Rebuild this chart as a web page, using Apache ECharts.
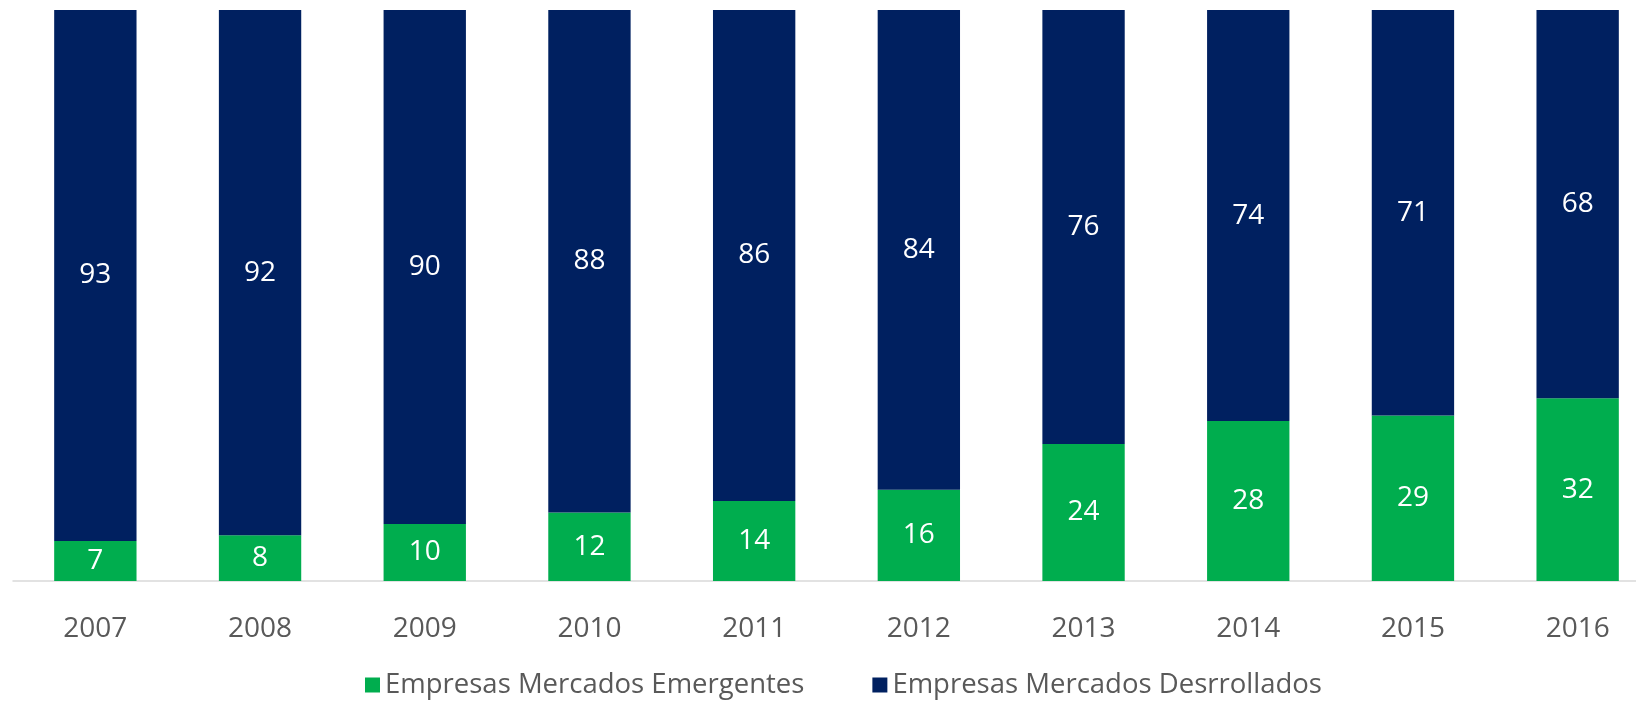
<!DOCTYPE html>
<html lang="es">
<head>
    <meta charset="UTF-8">
    <title>Empresas Mercados Emergentes vs Desarrollados</title>
    <style>
        html, body { margin: 0; padding: 0; background: #fff; overflow: hidden; }
        /* wider than the window: the original is cropped on the right */
        #chart { width: 1660px; height: 701px; }
    </style>
    <script src="https://cdn.jsdelivr.net/npm/echarts@6/dist/echarts.min.js"></script>
</head>
<body>
<div id="chart"></div>
<script>
    const years = ['2007', '2008', '2009', '2010', '2011', '2012', '2013', '2014', '2015', '2016'];
    const emergentes = [7, 8, 10, 12, 14, 16, 24, 28, 29, 32];
    const desarrollados = [93, 92, 90, 88, 86, 84, 76, 74, 71, 68];

    const fontFamily = "'Open Sans', 'Noto Sans', sans-serif";
    const labelStyle = { show: true, position: 'inside', color: '#fff', fontSize: 28, fontFamily: fontFamily };

    const chart = echarts.init(document.getElementById('chart'));
    chart.setOption({
        animation: false,
        grid: { left: 13, right: 0, top: 10, bottom: 120, containLabel: false },
        legend: {
            left: 360,
            top: 666,
            icon: 'rect',
            itemWidth: 15,
            itemHeight: 15,
            itemGap: 68,
            textStyle: { fontSize: 27.5, color: '#595959', fontFamily: fontFamily }
        },
        xAxis: {
            type: 'category',
            data: years,
            axisLine: { lineStyle: { color: '#d9d9d9', width: 1.5 } },
            axisTick: { show: false },
            axisLabel: { color: '#595959', fontSize: 28, margin: 34, fontFamily: fontFamily }
        },
        yAxis: { type: 'value', min: 0, max: 100, show: false },
        series: [
            {
                name: 'Empresas Mercados Emergentes',
                type: 'bar',
                stack: 'total',
                barWidth: '50%',
                data: emergentes,
                itemStyle: { color: '#00ad4e' },
                label: labelStyle
            },
            {
                name: 'Empresas Mercados Desrrollados',
                type: 'bar',
                stack: 'total',
                barWidth: '50%',
                data: desarrollados,
                itemStyle: { color: '#002060' },
                label: labelStyle
            }
        ]
    });
</script>
</body>
</html>
